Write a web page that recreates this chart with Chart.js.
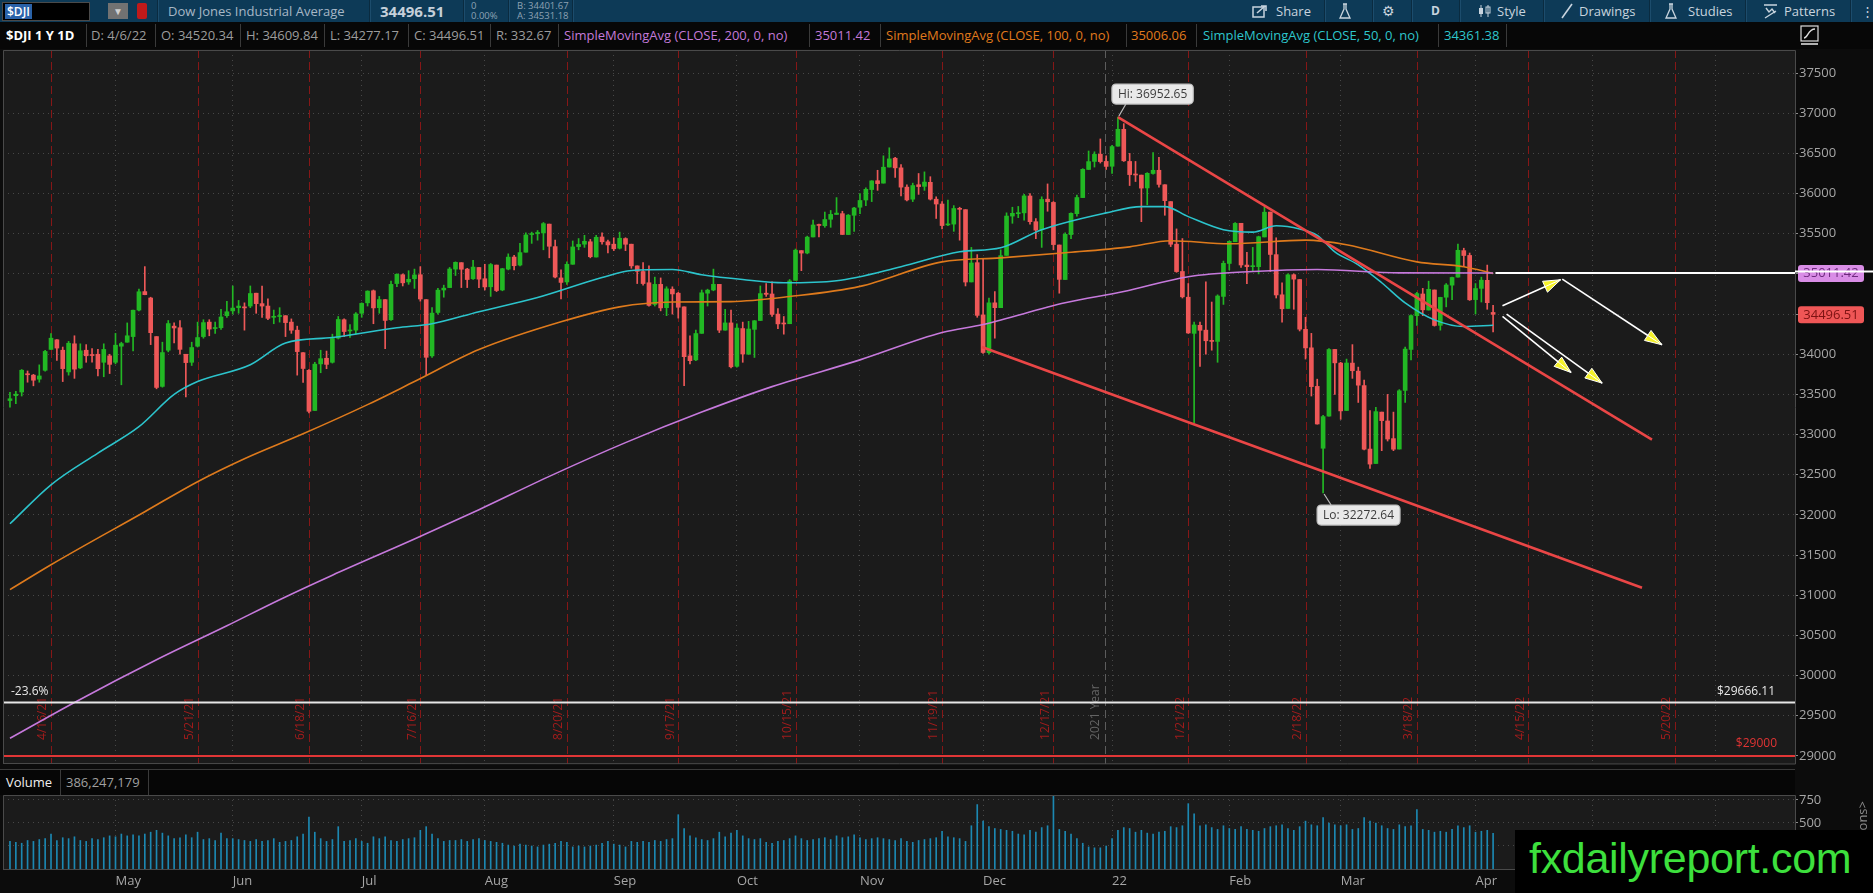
<!DOCTYPE html>
<html>
<head>
<meta charset="utf-8">
<script src="https://cdn.jsdelivr.net/npm/chart.js@4.4.1/dist/chart.umd.min.js"></script>
<style>
  html, body { margin: 0; padding: 0; background: #0c0c0c; width: 1873px; height: 893px; overflow: hidden; font-family: 'Open Sans', sans-serif; }
  .a { position: absolute; white-space: nowrap; }
  #bar1 { position: absolute; left: 0; top: 0; width: 1873px; height: 22px; background: #0d3a57; }
  #bar2 { position: absolute; left: 0; top: 22px; width: 1873px; height: 27px; background: #070707; }
  #bar1 .t { top: 0; line-height: 22px; font-size: 13px; color: #a7b7c6; }
  #bar1 .s { top: 1px; font-size: 9.5px; line-height: 10px; color: #8ea2b4; }
  #bar1 .sep { top: 0; width: 1px; height: 22px; background: #0a2b40; border-right: 1px solid #1c4c6c; }
  #bar2 .t { top: 0; line-height: 27px; font-size: 13px; color: #9c9c9c; }
  #bar2 .sep { top: 2px; width: 1px; height: 23px; background: #3a3a3a; }
  #main { position: absolute; left: 0; top: 49px; }
  #vol { position: absolute; left: 0; top: 795px; }
  #volhead { position: absolute; left: 0; top: 769px; width: 1795px; height: 25px; background: #060606; border-top: 1px solid #3a3a3a; border-bottom: 1px solid #3a3a3a; }
  #volhead .t { top: 0; line-height: 25px; font-size: 13px; }
  #wm { position: absolute; left: 1515px; top: 830px; width: 358px; height: 63px; background: #000; }
  #wm span { position: absolute; left: 14px; top: 4px; font-family: 'Liberation Sans', Arial, sans-serif; font-size: 43px; color: #3de03d; letter-spacing: -0.3px; }
</style>
</head>
<body>

<div id="bar1">
  <div class="a" style="left:2px;top:2px;width:86px;height:17px;background:#000;border:1px solid #4a4a4a;"></div>
  <div class="a" style="left:5px;top:4px;height:15px;line-height:15px;padding:0 2px;background:#2a62a8;color:#fff;font-size:12px;font-weight:600;">$DJI</div>
  <div class="a" style="left:108px;top:3px;width:20px;height:16px;background:#727272;color:#d0d0d0;font-size:10px;line-height:16px;text-align:center;">&#9660;</div>
  <div class="a" style="left:137px;top:3px;width:10px;height:16px;background:#c01a1a;border-radius:2px;"></div>
  <div class="a sep" style="left:157px"></div>
  <div class="a t" style="left:168px">Dow Jones Industrial Average</div>
  <div class="a sep" style="left:369px"></div>
  <div class="a t" style="left:380px;font-size:15px;font-weight:700;color:#c6d0da;">34496.51</div>
  <div class="a sep" style="left:463px"></div>
  <div class="a s" style="left:471px">0<br>0.00%</div>
  <div class="a sep" style="left:508px"></div>
  <div class="a s" style="left:517px">B: 34401.67<br>A: 34531.18</div>
  <div class="a sep" style="left:572px"></div>

  <svg class="a" style="left:1252px;top:4px" width="16" height="14" viewBox="0 0 16 14"><rect x="1" y="3" width="11" height="10" fill="none" stroke="#c8d4de" stroke-width="1.5"/><path d="M5 9 L13 2 M9 2 H14 V7" stroke="#c8d4de" stroke-width="1.6" fill="none"/></svg>
  <div class="a t" style="left:1276px;color:#c8d4de;">Share</div>
  <div class="a sep" style="left:1324px"></div>
  <svg class="a" style="left:1339px;top:3px" width="12" height="16" viewBox="0 0 12 16"><path d="M4 1 H8 M5 1 V6 L1 15 H11 L7 6 V1" stroke="#c8d4de" stroke-width="1.3" fill="none"/></svg>
  <div class="a sep" style="left:1372px"></div>
  <div class="a t" style="left:1382px;color:#c8d4de;font-size:14px;">&#9881;</div>
  <div class="a sep" style="left:1411px"></div>
  <div class="a t" style="left:1431px;color:#c8d4de;font-weight:700;font-size:12px;">D</div>
  <div class="a sep" style="left:1459px"></div>
  <svg class="a" style="left:1478px;top:4px" width="14" height="14" viewBox="0 0 14 14"><path d="M3 1 V13 M10 1 V13" stroke="#c8d4de" stroke-width="1"/><rect x="1" y="4" width="4" height="6" fill="#c8d4de"/><rect x="8" y="3" width="4" height="6" fill="none" stroke="#c8d4de"/></svg>
  <div class="a t" style="left:1497px;color:#c8d4de;">Style</div>
  <div class="a sep" style="left:1543px"></div>
  <svg class="a" style="left:1560px;top:3px" width="14" height="16" viewBox="0 0 14 16"><path d="M2 15 L12 1" stroke="#c8d4de" stroke-width="1.6"/></svg>
  <div class="a t" style="left:1579px;color:#c8d4de;">Drawings</div>
  <div class="a sep" style="left:1649px"></div>
  <svg class="a" style="left:1665px;top:3px" width="12" height="16" viewBox="0 0 12 16"><path d="M4 1 H8 M5 1 V6 L1 15 H11 L7 6 V1" stroke="#c8d4de" stroke-width="1.3" fill="none"/></svg>
  <div class="a t" style="left:1688px;color:#c8d4de;">Studies</div>
  <div class="a sep" style="left:1745px"></div>
  <svg class="a" style="left:1763px;top:3px" width="15" height="16" viewBox="0 0 15 16"><path d="M1 2 H14 M3 5 L6 9 L9 6 L12 10 M2 15 L13 8" stroke="#c8d4de" stroke-width="1.4" fill="none"/></svg>
  <div class="a t" style="left:1784px;color:#c8d4de;">Patterns</div>
  <div class="a sep" style="left:1850px"></div>
  <div class="a t" style="left:1861px;color:#c8d4de;">&#8942;</div>
</div>

<div id="bar2">
  <div class="a t" style="left:6px;color:#fff;font-weight:700;">$DJI 1 Y 1D</div>
  <div class="a sep" style="left:86px"></div>
  <div class="a t" style="left:91px">D: 4/6/22</div>
  <div class="a sep" style="left:155px"></div>
  <div class="a t" style="left:161px">O: 34520.34</div>
  <div class="a sep" style="left:240px"></div>
  <div class="a t" style="left:246px">H: 34609.84</div>
  <div class="a sep" style="left:324px"></div>
  <div class="a t" style="left:330px">L: 34277.17</div>
  <div class="a sep" style="left:408px"></div>
  <div class="a t" style="left:414px">C: 34496.51</div>
  <div class="a sep" style="left:490px"></div>
  <div class="a t" style="left:496px">R: 332.67</div>
  <div class="a sep" style="left:558px"></div>
  <div class="a t" style="left:564px;color:#c47ad8;">SimpleMovingAvg (CLOSE, 200, 0, no)</div>
  <div class="a sep" style="left:809px"></div>
  <div class="a t" style="left:815px;color:#c47ad8;">35011.42</div>
  <div class="a sep" style="left:880px"></div>
  <div class="a t" style="left:886px;color:#e07a1c;">SimpleMovingAvg (CLOSE, 100, 0, no)</div>
  <div class="a sep" style="left:1126px"></div>
  <div class="a t" style="left:1131px;color:#e07a1c;">35006.06</div>
  <div class="a sep" style="left:1196px"></div>
  <div class="a t" style="left:1203px;color:#2ec6cc;">SimpleMovingAvg (CLOSE, 50, 0, no)</div>
  <div class="a sep" style="left:1438px"></div>
  <div class="a t" style="left:1444px;color:#2ec6cc;">34361.38</div>
  <div class="a sep" style="left:1506px"></div>
  <svg class="a" style="left:1800px;top:3px" width="20" height="21" viewBox="0 0 20 21"><rect x="1" y="1" width="17" height="15" fill="none" stroke="#ddd" stroke-width="1.2"/><path d="M4 13 C8 13 8 4 15 4" stroke="#ddd" stroke-width="1.4" fill="none"/><path d="M1 19 H18" stroke="#ddd" stroke-width="1.6"/></svg>
</div>

<canvas id="main" width="1873" height="720"></canvas>

<div id="volhead">
  <div class="a t" style="left:6px;color:#f0f0f0;">Volume</div>
  <div class="a" style="left:60px;top:0;width:1px;height:25px;background:#3a3a3a;"></div>
  <div class="a t" style="left:66px;color:#a0a0a0;">386,247,179</div>
  <div class="a" style="left:148px;top:0;width:1px;height:25px;background:#3a3a3a;"></div>
</div>

<canvas id="vol" width="1873" height="98"></canvas>

<div id="wm"><span>fxdailyreport.com</span></div>

<script>
// daily candles, 4/7/21 .. 4/6/22 (index = trading day)
const opens = [
  33424,33485,33530,33750,33740,33690,33800,34060,34180,34050,33780,34130,33830,34050,33990,34000,33900,33980,
  33900,34100,34150,34220,34550,34780,34700,34220,33600,34050,34350,34330,34000,33900,34100,34220,34400,34320,34330,34480,
  34540,34580,34590,34600,34760,34630,34600,34460,34470,34480,34400,34300,34020,33800,33300,33880,33950,33900,34200,34430,34290,34300,
  34510,34640,34790,34580,34680,34430,34880,34990,34900,34940,34990,34680,33980,34520,34800,34830,35060,35140,35060,34940,35080,
  34940,34840,35110,34800,35060,35210,35110,35270,35490,35500,35510,35620,35340,34950,34900,35120,35340,35370,35400,35210,35460,35400,
  35370,35320,35440,35370,35100,35030,34890,34620,34870,34580,34810,34760,34590,33980,33930,34260,34760,34800,34870,34300,34390,
  33850,34320,34000,34310,34420,34760,34750,34500,34380,34380,34920,35290,35260,35460,35610,35600,35680,35740,35750,35490,35730,
  35830,35920,36050,36160,36130,36330,36440,36320,36080,35930,36110,36090,36140,35930,35870,35610,35620,35810,35800,34900,35140,
  34490,34020,34640,34580,35230,35720,35750,35760,35970,35650,35550,35930,35890,35360,34930,35490,35750,35950,36300,36400,36490,36400,
  36340,36590,36800,36400,36240,36230,36070,36250,36290,36110,35900,35370,35030,34710,34260,34360,34300,34170,34160,34720,
  35130,35400,35630,35110,35090,35090,35460,35770,35240,34740,34570,34990,34930,34310,34080,33600,32830,33230,34060,
  33890,33300,33890,33790,33610,32820,32640,33280,33170,32950,32820,33550,34060,34480,34750,34550,34800,34360,34710,34860,34960,35290,35230,
  34680,34820,34920,34520.34
];
const highs = [
  33527,33540,33810,33792,33750,33868,34050,34256,34183,34090,34160,34230,34130,34120,34070,34060,34130,34000,
  34260,34150,34390,34550,34811,35091,34710,34220,34150,34420,34390,34420,34000,34150,34400,34430,34430,34400,34560,34660,
  34850,34670,34640,34850,34760,34850,34690,34550,34580,34480,34440,34350,34020,33810,33900,34050,34040,34250,34470,34440,34370,34520,
  34640,34790,34800,34720,34680,34910,35000,35000,35040,35060,35090,34680,34580,34820,34860,35080,35150,35140,35070,35170,35080,
  35120,35130,35110,35070,35250,35230,35380,35510,35520,35540,35640,35620,35420,35050,35150,35410,35440,35480,35430,35480,35510,35420,
  35450,35520,35450,35370,35100,35140,35100,34960,34950,34840,34840,34770,34590,34230,34300,34800,34810,35060,34870,34560,34550,
  34380,34400,34410,34420,34850,34880,34900,34570,34470,34930,35310,35290,35470,35670,35620,35770,35790,35950,35780,35740,35830,
  36000,36070,36160,36290,36470,36570,36450,36360,36110,36130,36250,36270,36210,35960,35900,35920,35850,35830,35800,35330,35240,
  35180,34700,34780,35300,35760,35830,35840,35990,36000,35690,35960,36120,35900,35360,35510,35760,35980,36310,36530,36520,36680,36470,
  36600,36952.65,36870,36500,36400,36230,36260,36510,36450,36110,35900,35560,35440,34880,34400,34400,34900,34650,34740,35160,
  35410,35640,35630,35270,35330,35470,35830,35770,35450,34890,35000,35000,34930,34460,34260,33690,33240,34070,34060,
  33900,33940,34120,33840,33680,33300,33340,33280,33500,33280,33560,34090,34490,34770,34820,34910,34800,34710,34880,34960,35370,35320,35260,
  34880,34960,35110,34609.84
];
const lows = [
  33341,33386,33480,33652,33607,33652,33790,34060,33923,33660,33740,33700,33820,33900,33900,33730,33720,33760,
  33880,33620,34150,34040,34540,34740,34120,33570,33590,34030,34140,34000,33470,33860,34090,34200,34230,34260,34310,34460,
  34500,34510,34300,34580,34510,34460,34430,34380,34400,34220,34260,33740,33650,33270,33300,33770,33820,33890,34190,34220,34210,34250,
  34460,34600,34380,34510,34070,34420,34840,34850,34870,34820,34660,33740,33960,34500,34710,34830,34980,34830,34830,34930,34830,
  34800,34720,34780,34790,35050,35050,35100,35270,35380,35420,35300,35200,34950,34690,34870,35120,35300,35330,35200,35210,35370,35260,
  35290,35310,35290,35070,34880,34860,34600,34600,34540,34480,34500,34450,33610,33880,33920,34260,34600,34790,34270,34300,33830,
  33840,33900,34000,33960,34420,34720,34470,34320,34250,34380,34920,35040,35250,35460,35460,35580,35580,35740,35490,35490,35530,
  35750,35850,35900,36040,36130,36330,36200,35970,35910,35900,35990,36040,35920,35690,35560,35600,35530,35420,34850,34900,34460,
  34010,34000,34200,34580,35230,35630,35700,35670,35620,35440,35330,35780,35300,34760,34930,35440,35720,35950,36300,36330,36380,36300,
  36250,36590,36400,36100,36150,35650,35860,36240,36080,35730,35340,35020,34700,34260,33150,33850,34000,34050,33900,34620,
  35050,35400,35080,34880,35030,35000,35460,35030,34700,34400,34570,34560,34290,33940,33480,33130,32272.64,33230,33500,
  33190,33300,33700,33400,32810,32580,32640,32800,32920,32800,32820,33400,33930,34360,34480,34550,34350,34300,34590,34680,34960,35090,34670,
  34500,34650,34560,34277.17
];
const closes = [
  33446,33503,33801,33745,33677,33730,34035,34200,34077,33821,34137,33815,34043,33981,33984,33820,34060,33874,
  34113,34133,34230,34548,34778,34742,34269,33587,34021,34382,34327,34061,33896,34084,34208,34394,34313,34323,34464,34529,
  34575,34600,34577,34756,34630,34600,34447,34466,34480,34394,34299,34033,33823,33290,33877,33945,33874,34196,34433,34283,34292,34502,
  34633,34786,34577,34681,34421,34870,34996,34889,34933,34987,34688,33962,34512,34798,34823,35061,35144,35058,34930,35085,34935,
  34838,35117,34793,35065,35209,35102,35265,35485,35500,35516,35626,35344,34961,34894,35120,35336,35367,35406,35214,35456,35400,35361,
  35313,35444,35369,35100,35032,34880,34608,34870,34577,34814,34751,34585,33970,33920,34258,34765,34798,34870,34300,34390,33844,
  34326,34003,34314,34417,34755,34746,34496,34378,34377,34912,35295,35259,35458,35609,35603,35677,35741,35757,35491,35731,35820,
  35914,36053,36158,36124,36328,36432,36320,36080,35921,36100,36087,36143,35931,35870,35602,35620,35814,35804,34899,35136,34484,
  34022,34640,34580,35227,35720,35754,35754,35971,35650,35545,35927,35898,35365,34932,35493,35754,35951,36302,36398,36488,36398,36338,
  36585,36800,36408,36236,36231,36068,36252,36290,36114,35912,35369,35029,34715,34265,34365,34298,34168,34160,34725,35132,
  35405,35629,35111,35090,35091,35463,35768,35242,34738,34566,34989,34935,34312,34079,33597,33132,33224,34059,33893,
  33295,33891,33795,33615,32818,32633,33286,33174,32945,32818,33545,34064,34481,34755,34553,34808,34358,34708,34862,34956,35294,35229,34678,
  34818,34922,34642,34496.51
];
// volume in millions
const volumes = [
  300,290,280,310,300,320,330,380,310,340,330,350,310,300,330,320,340,360,
  350,380,360,370,360,380,400,420,390,360,330,340,370,340,400,320,330,310,390,330,
  330,320,310,300,320,300,310,330,290,300,310,350,380,565,400,330,300,320,460,300,310,330,
  300,280,350,330,350,310,300,320,330,340,420,460,380,330,300,310,310,320,300,320,330,
  310,300,290,280,260,250,270,260,250,240,260,270,280,300,290,240,250,240,250,260,280,300,
  270,260,240,300,290,300,290,310,300,320,330,590,440,360,340,320,310,330,400,350,390,
  420,360,330,320,330,290,280,300,310,330,360,330,310,320,330,340,320,360,340,350,370,
  340,320,330,340,330,320,310,330,300,290,310,320,330,340,410,350,340,330,300,470,700,
  520,460,440,430,420,410,380,370,420,400,450,470,790,430,410,380,330,280,240,230,230,250,
  330,420,450,440,400,420,390,380,400,410,460,450,470,710,600,470,480,450,430,470,
  440,430,460,430,420,410,440,460,470,480,440,420,460,520,480,470,560,500,480,
  470,480,430,440,560,520,500,470,440,430,480,460,470,645,430,420,400,410,400,430,470,450,470,
  400,410,420,386.25
];

// moving averages (trading-day index, value)
const sma50X = [0,7,15,22,28,32,41,47,55,66,72,80,90,101,106,113,118,125,132,141,152,162,169,176,187,193,197,201,207,212,216,220,223,226,230,234,238,243,248,253];
const sma50Y = [31890,32375,32770,33098,33500,33660,33870,34140,34208,34330,34380,34530,34706,34955,35043,35055,34990,34930,34890,34915,35090,35275,35325,35550,35760,35838,35838,35713,35550,35520,35600,35560,35480,35275,35113,34890,34640,34428,34345,34361.38];
const sma100X = [0,7,23,32,40,50,61,69,80,94,104,113,123,133,145,159,169,180,191,198,208,221,228,240,248,253];
const sma100Y = [31070,31380,32040,32414,32700,33010,33373,33660,34058,34404,34590,34650,34655,34718,34845,35150,35200,35263,35337,35413,35375,35420,35363,35150,35090,35006.06];
const sma200X = [0,11,25,37,46,55,69,80,92,105,118,130,145,159,166,180,190,201,212,223,237,253];
const sma200Y = [29220,29666,30197,30620,30945,31250,31700,32065,32480,32900,33280,33597,33930,34270,34370,34640,34780,34965,35030,35055,35013,35011.42];

// axis labels and markers
const monthIdx = [18,38,60,81,103,124,145,166,188,208,227,250,270,291];
const monthLabels = ['May','Jun','Jul','Aug','Sep','Oct','Nov','Dec','22','Feb','Mar','Apr','May','Jun'];
const expiryIdx = [7,32,51,70,95,114,134,159,178,201,221,240,259,284];
const expiryLabels = ['4/16/21','5/21/21','6/18/21','7/16/21','8/20/21','9/17/21','10/15/21','11/19/21','12/17/21','1/21/22','2/18/22','3/18/22','4/15/22','5/20/22'];
const yearIdx = 186.8;
const priceTicks = [29000,29500,30000,30500,31000,31500,32000,32500,33000,33500,34000,34500,35000,35500,36000,36500,37000,37500];
const volTicks = [250,500,750];

// drawings
const upperTrend = [[189, 36952.65], [280.1, 32937]];
const lowerTrend = [[165.8, 34090], [278.4, 31093]];
const arrows = [
  [[254.6, 34603], [264.5, 34927]],
  [[264.8, 34936], [281.8, 34118]],
  [[254.6, 34470], [266.3, 33773]],
  [[255.3, 34500], [271.6, 33641]]
];
const fibLevel = 29666.11;
const supportLevel = 29000;
const sma200Last = 35011.42;
const lastClose = 34496.51;
const hiPoint = [189, 36952.65];
const loPoint = [224, 32272.64];

const xMin = -1.19, xMax = 304.5;
const GREEN = '#22b824', RED = '#ee5858';
const isUp = i => closes[i] >= opens[i];

Chart.defaults.font.family = "'Open Sans', sans-serif";

const pts = (xs, ys) => xs.map((x, i) => ({ x, y: ys[i] }));
const seg = p => p.map(([x, y]) => ({ x, y }));
const lineDs = (data, color, width, order, extra) => Object.assign({
  type: 'line', data, borderColor: color, borderWidth: width, pointRadius: 0,
  fill: false, order
}, extra || {});

function roundRect(ctx, x, y, w, h, r) {
  ctx.beginPath();
  ctx.moveTo(x + r, y);
  ctx.arcTo(x + w, y, x + w, y + h, r);
  ctx.arcTo(x + w, y + h, x, y + h, r);
  ctx.arcTo(x, y + h, x, y, r);
  ctx.arcTo(x, y, x + w, y, r);
  ctx.closePath();
}

const mainDecor = {
  id: 'mainDecor',
  beforeDraw(chart) {
    const { ctx, chartArea: a, width, height } = chart;
    ctx.save();
    ctx.fillStyle = '#0c0c0c';
    ctx.fillRect(0, 0, width, height);
    ctx.fillStyle = '#1b1b1b';
    ctx.fillRect(a.left, a.top, a.right - a.left, a.bottom - a.top);
    ctx.restore();
  },
  beforeDatasetsDraw(chart) {
    const { ctx, chartArea: a, scales: { x, y } } = chart;
    ctx.save();
    ctx.beginPath();
    ctx.rect(a.left, a.top, a.right - a.left, a.bottom - a.top);
    ctx.clip();
    ctx.lineWidth = 1;
    ctx.setLineDash([8, 4]);
    ctx.strokeStyle = '#861717';
    expiryIdx.forEach(v => {
      const px = Math.round(x.getPixelForValue(v)) + 0.5;
      ctx.beginPath(); ctx.moveTo(px, a.top); ctx.lineTo(px, a.bottom); ctx.stroke();
    });
    ctx.strokeStyle = '#5c5c5c';
    const yx = Math.round(x.getPixelForValue(yearIdx)) + 0.5;
    ctx.beginPath(); ctx.moveTo(yx, a.top); ctx.lineTo(yx, a.bottom); ctx.stroke();
    ctx.setLineDash([]);

    const base = y.getPixelForValue(29200);
    ctx.font = "12px 'Open Sans'";
    ctx.textAlign = 'left';
    ctx.textBaseline = 'middle';
    ctx.fillStyle = '#a21c1c';
    expiryIdx.forEach((v, i) => {
      ctx.save();
      ctx.translate(x.getPixelForValue(v) - 8, base);
      ctx.rotate(-Math.PI / 2);
      ctx.fillText(expiryLabels[i], 0, 0);
      ctx.restore();
    });
    ctx.fillStyle = '#646464';
    ctx.save();
    ctx.translate(x.getPixelForValue(yearIdx) - 9, base);
    ctx.rotate(-Math.PI / 2);
    ctx.fillText('2021 Year', 0, 0);
    ctx.restore();
    ctx.restore();
  },
  afterDatasetsDraw(chart) {
    const { ctx, chartArea: a, scales: { x, y } } = chart;
    ctx.save();
    // arrow heads
    chart.data.datasets.forEach((ds, di) => {
      if (!ds.arrow) return;
      const el = chart.getDatasetMeta(di).data;
      const p1 = el[el.length - 2], p2 = el[el.length - 1];
      const ang = Math.atan2(p2.y - p1.y, p2.x - p1.x);
      const L = 17, W = 6;
      const bx = p2.x - L * Math.cos(ang), by = p2.y - L * Math.sin(ang);
      ctx.beginPath();
      ctx.moveTo(p2.x, p2.y);
      ctx.lineTo(bx + W * Math.sin(ang), by - W * Math.cos(ang));
      ctx.lineTo(bx - W * Math.sin(ang), by + W * Math.cos(ang));
      ctx.closePath();
      ctx.fillStyle = '#f6f22a';
      ctx.fill();
      ctx.strokeStyle = '#ffffff';
      ctx.lineWidth = 1;
      ctx.stroke();
      ctx.beginPath(); ctx.moveTo(bx, by); ctx.lineTo(p2.x, p2.y); ctx.stroke();
    });

    // level labels
    ctx.font = "12px 'Open Sans'";
    ctx.textBaseline = 'middle';
    const fy = y.getPixelForValue(fibLevel);
    ctx.fillStyle = '#e8e8e8';
    ctx.textAlign = 'left';
    ctx.fillText('-23.6%', a.left + 8, fy - 11);
    ctx.textAlign = 'right';
    ctx.fillText('$29666.11', a.right - 20, fy - 11);
    ctx.fillStyle = '#e03434';
    ctx.fillText('$29000', a.right - 18, y.getPixelForValue(supportLevel) - 12);

    // Hi / Lo bubbles
    const bubble = (txt, px, py, above) => {
      ctx.font = "12px 'Open Sans'";
      const w = ctx.measureText(txt).width + 12, h = 20;
      const bx = px - 6, byy = above ? py - 33 : py + 12;
      ctx.strokeStyle = '#bdbdbd';
      ctx.lineWidth = 1.2;
      ctx.beginPath();
      if (above) { ctx.moveTo(px + 1, py - 1); ctx.lineTo(px + 8, byy + h); }
      else { ctx.moveTo(px + 1, py + 1); ctx.lineTo(px + 8, byy); }
      ctx.stroke();
      roundRect(ctx, bx, byy, w, h, 4);
      ctx.fillStyle = '#e9e9e9';
      ctx.fill();
      ctx.stroke();
      ctx.fillStyle = '#3c3c3c';
      ctx.textAlign = 'left';
      ctx.textBaseline = 'middle';
      ctx.fillText(txt, bx + 6, byy + h / 2 + 0.5);
    };
    bubble('Hi: 36952.65', x.getPixelForValue(hiPoint[0]), y.getPixelForValue(hiPoint[1]), true);
    bubble('Lo: 32272.64', x.getPixelForValue(loPoint[0]), y.getPixelForValue(loPoint[1]), false);
    ctx.restore();
  },
  afterDraw(chart) {
    const { ctx, chartArea: a, scales: { y }, width } = chart;
    ctx.save();
    ctx.strokeStyle = '#4a4a4a';
    ctx.lineWidth = 1;
    ctx.beginPath();
    ctx.moveTo(a.left + 0.5, a.bottom); ctx.lineTo(a.left + 0.5, a.top + 0.5);
    ctx.lineTo(a.right + 0.5, a.top + 0.5); ctx.lineTo(a.right + 0.5, a.bottom);
    ctx.lineTo(a.left, a.bottom - 0.5);
    ctx.stroke();

    const tag = (val, bg, fg) => {
      const py = y.getPixelForValue(val);
      roundRect(ctx, a.right + 3, py - 8, 66, 17, 3);
      ctx.fillStyle = bg; ctx.fill();
      ctx.fillStyle = fg;
      ctx.font = "13px 'Open Sans'";
      ctx.textAlign = 'center';
      ctx.textBaseline = 'middle';
      ctx.fillText(val.toFixed(2), a.right + 36, py + 0.5);
    };
    tag(sma200Last, '#d98de6', '#6e2a7e');
    tag(lastClose, '#ef5656', '#7c1212');
    const wy = Math.round(y.getPixelForValue(sma200Last) - 2) + 0.5;
    ctx.strokeStyle = '#ffffff';
    ctx.lineWidth = 2;
    ctx.beginPath(); ctx.moveTo(a.right, wy); ctx.lineTo(width, wy); ctx.stroke();
    ctx.restore();
  }
};

new Chart(document.getElementById('main'), {
  type: 'bar',
  data: {
    datasets: [
      { label: 'wick', data: lows.map((l, i) => ({ x: i, y: [l, highs[i]] })),
        backgroundColor: c => isUp(c.dataIndex) ? GREEN : RED,
        barThickness: 1, grouped: false, order: 5 },
      { label: 'body', data: opens.map((o, i) => ({ x: i, y: [o, closes[i]] })),
        backgroundColor: c => isUp(c.dataIndex) ? GREEN : RED,
        barThickness: 4, minBarLength: 1, grouped: false, order: 4 },
      lineDs(pts(sma200X, sma200Y), '#c679dc', 1.6, 3, { cubicInterpolationMode: 'monotone' }),
      lineDs(pts(sma100X, sma100Y), '#de7a1c', 1.6, 3, { cubicInterpolationMode: 'monotone' }),
      lineDs(pts(sma50X, sma50Y), '#2cc4cc', 1.6, 3, { cubicInterpolationMode: 'monotone' }),
      lineDs(seg([[xMin, fibLevel], [xMax, fibLevel]]), '#e6e6e6', 2, 2),
      lineDs(seg([[xMin, supportLevel], [xMax, supportLevel]]), '#e23636', 2, 2),
      lineDs(seg([[253.4, sma200Last], [xMax, sma200Last]]), '#ffffff', 2, 2),
      lineDs(seg(upperTrend), '#ea4646', 2.6, 1),
      lineDs(seg(lowerTrend), '#ea4646', 2.6, 1),
      ...arrows.map(a => lineDs(seg(a), '#ffffff', 1.6, 0, { arrow: true }))
    ]
  },
  options: {
    responsive: false,
    animation: false,
    devicePixelRatio: 1,
    layout: { padding: { top: 1, left: 3, right: 0, bottom: 0 } },
    plugins: { legend: { display: false }, tooltip: { enabled: false } },
    scales: {
      x: {
        type: 'linear', min: xMin, max: xMax, offset: false,
        afterBuildTicks: s => { s.ticks = monthIdx.map(v => ({ value: v })); },
        afterFit: s => { s.height = 5; s.paddingLeft = 0; s.paddingRight = 0; },
        ticks: { display: false },
        grid: { offset: false, color: '#474747', drawTicks: false },
        border: { display: false, dash: [1, 4] }
      },
      y: {
        position: 'right', min: 28900, max: 37787,
        afterBuildTicks: s => { s.ticks = priceTicks.map(v => ({ value: v })); },
        afterFit: s => { s.width = 78; s.paddingTop = 0; s.paddingBottom = 0; },
        ticks: { color: '#a6a6a6', font: { size: 13 }, padding: 1, callback: v => String(v) },
        grid: { color: '#474747', tickLength: 3, tickColor: '#8a8a8a' },
        border: { display: false, dash: [1, 4] }
      }
    }
  },
  plugins: [mainDecor]
});

const volDecor = {
  id: 'volDecor',
  beforeDraw(chart) {
    const { ctx, chartArea: a, width, height } = chart;
    ctx.save();
    ctx.fillStyle = '#0c0c0c';
    ctx.fillRect(0, 0, width, height);
    ctx.fillStyle = '#1b1b1b';
    ctx.fillRect(a.left, a.top, a.right - a.left, a.bottom - a.top);
    ctx.restore();
  },
  afterDraw(chart) {
    const { ctx, chartArea: a, width } = chart;
    ctx.save();
    ctx.strokeStyle = '#4a4a4a';
    ctx.lineWidth = 1;
    ctx.beginPath();
    ctx.moveTo(a.left + 0.5, a.bottom); ctx.lineTo(a.left + 0.5, a.top + 0.5);
    ctx.lineTo(a.right + 0.5, a.top + 0.5); ctx.lineTo(a.right + 0.5, a.bottom + 0.5);
    ctx.lineTo(a.left, a.bottom + 0.5);
    ctx.stroke();
    ctx.fillStyle = '#8a8a8a';
    ctx.font = "13px 'Open Sans'";
    ctx.textAlign = 'right';
    ctx.textBaseline = 'middle';
    ctx.translate(width - 10, a.top + 6);
    ctx.rotate(-Math.PI / 2);
    ctx.fillText('<Millions>', 0, 0);
    ctx.restore();
  }
};

new Chart(document.getElementById('vol'), {
  type: 'bar',
  data: {
    datasets: [
      { label: 'Volume', data: volumes.map((v, i) => ({ x: i, y: v })),
        backgroundColor: '#1c88b2', barThickness: 1, grouped: false }
    ]
  },
  options: {
    responsive: false,
    animation: false,
    devicePixelRatio: 1,
    layout: { padding: { top: 0, left: 3, right: 0, bottom: 0 } },
    plugins: { legend: { display: false }, tooltip: { enabled: false } },
    scales: {
      x: {
        type: 'linear', min: xMin, max: xMax, offset: false,
        afterBuildTicks: s => { s.ticks = monthIdx.map(v => ({ value: v })); },
        afterFit: s => { s.height = 24; s.paddingLeft = 0; s.paddingRight = 0; },
        ticks: { color: '#a6a6a6', font: { size: 13 }, align: 'start', padding: 4, maxRotation: 0, autoSkip: false,
                 callback: v => monthLabels[monthIdx.indexOf(v)] },
        grid: { offset: false, color: '#474747', drawTicks: false },
        border: { display: false, dash: [1, 4] }
      },
      y: {
        position: 'right', min: 0, max: 804,
        afterBuildTicks: s => { s.ticks = volTicks.map(v => ({ value: v })); },
        afterFit: s => { s.width = 78; s.paddingTop = 0; s.paddingBottom = 0; },
        ticks: { color: '#a6a6a6', font: { size: 13 }, padding: 1, callback: v => String(v) },
        grid: { color: '#474747', tickLength: 3, tickColor: '#8a8a8a' },
        border: { display: false, dash: [1, 4] }
      }
    }
  },
  plugins: [volDecor]
});
</script>
</body>
</html>
